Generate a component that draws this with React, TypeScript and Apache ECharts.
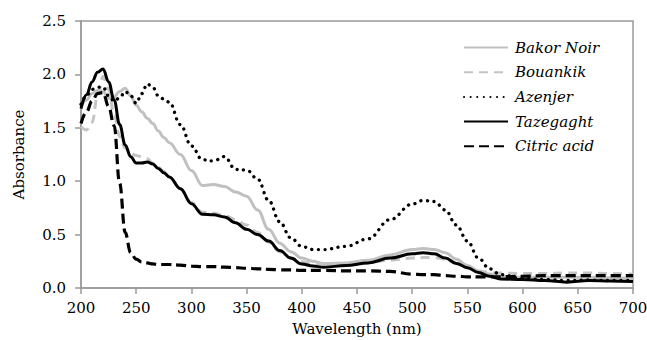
import React, { useEffect, useRef } from "react";
import * as echarts from "echarts";

const wavelengths = [200, 205, 210, 215, 220, 225, 230, 235, 240, 245, 250, 255, 260, 265, 270, 275, 280, 290, 300, 310, 320, 330, 340, 350, 360, 370, 380, 390, 400, 410, 420, 440, 460, 480, 500, 510, 520, 530, 540, 550, 560, 570, 580, 600, 620, 640, 660, 680, 700];

const bakorNoir = [1.70, 1.76, 1.82, 1.85, 1.84, 1.78, 1.79, 1.84, 1.87, 1.80, 1.71, 1.65, 1.59, 1.54, 1.47, 1.41, 1.36, 1.25, 1.10, 0.96, 0.97, 0.95, 0.90, 0.86, 0.73, 0.55, 0.42, 0.34, 0.28, 0.25, 0.23, 0.235, 0.26, 0.31, 0.36, 0.37, 0.36, 0.33, 0.27, 0.21, 0.16, 0.13, 0.11, 0.10, 0.10, 0.10, 0.10, 0.095, 0.09];

const bouankik = [1.51, 1.48, 1.55, 1.80, 1.98, 1.86, 1.62, 1.42, 1.31, 1.26, 1.24, 1.23, 1.21, 1.17, 1.13, 1.09, 1.04, 0.93, 0.80, 0.71, 0.70, 0.68, 0.64, 0.59, 0.52, 0.43, 0.34, 0.28, 0.245, 0.23, 0.225, 0.225, 0.24, 0.26, 0.28, 0.285, 0.285, 0.27, 0.23, 0.19, 0.16, 0.145, 0.14, 0.135, 0.135, 0.14, 0.14, 0.135, 0.13];

const azenjer = [1.72, 1.80, 1.86, 1.88, 1.88, 1.80, 1.75, 1.78, 1.84, 1.80, 1.73, 1.82, 1.91, 1.88, 1.80, 1.77, 1.74, 1.53, 1.33, 1.20, 1.19, 1.23, 1.11, 1.105, 1.02, 0.82, 0.62, 0.47, 0.39, 0.36, 0.36, 0.39, 0.46, 0.64, 0.785, 0.82, 0.81, 0.73, 0.59, 0.44, 0.28, 0.18, 0.125, 0.09, 0.08, 0.07, 0.075, 0.07, 0.07];

const tazegaght = [1.68, 1.81, 1.93, 2.02, 2.05, 1.93, 1.76, 1.53, 1.34, 1.23, 1.17, 1.17, 1.18, 1.16, 1.12, 1.08, 1.04, 0.93, 0.79, 0.69, 0.685, 0.665, 0.61, 0.55, 0.50, 0.44, 0.35, 0.28, 0.225, 0.205, 0.195, 0.21, 0.235, 0.28, 0.32, 0.33, 0.32, 0.28, 0.23, 0.19, 0.145, 0.11, 0.085, 0.08, 0.07, 0.055, 0.07, 0.065, 0.06];

const citricAcid = [1.54, 1.65, 1.75, 1.82, 1.83, 1.70, 1.52, 0.98, 0.52, 0.33, 0.27, 0.245, 0.235, 0.225, 0.22, 0.22, 0.22, 0.215, 0.205, 0.20, 0.20, 0.195, 0.19, 0.185, 0.18, 0.175, 0.17, 0.17, 0.165, 0.165, 0.165, 0.16, 0.16, 0.155, 0.13, 0.125, 0.125, 0.115, 0.11, 0.105, 0.105, 0.105, 0.105, 0.11, 0.115, 0.115, 0.115, 0.115, 0.115];

const seriesNames = ["Bakor Noir", "Bouankik", "Azenjer", "Tazegaght", "Citric acid"];

const X_MIN = 200;
const X_MAX = 700;
const Y_MIN = 0;
const Y_MAX = 2.5;

const FONT = "DejaVu Serif";

function pairs(vals: number[]) {
  return wavelengths.map((w, i) => [w, vals[i]]);
}

export default function App() {
  const ref = useRef<HTMLDivElement>(null);
  useEffect(() => {
    if (!ref.current) return;
    const chart = echarts.init(ref.current, null, { renderer: "svg" });
    const axisColor = "#9a9a9a";
    const common = { type: "line", symbol: "none", showSymbol: false, smooth: 0.4, smoothMonotone: "x" };
    chart.setOption({
      animation: false,
      backgroundColor: "#ffffff",
      grid: { left: 81, right: 14, top: 21, bottom: 52, containLabel: false, outerBoundsMode: "none" },
      legend: {
        orient: "vertical",
        left: 463,
        top: 40,
        padding: 0,
        itemWidth: 44,
        itemHeight: 14,
        itemGap: 9.7,
        data: seriesNames,
        itemStyle: { opacity: 0 },
        textStyle: { fontFamily: FONT, fontStyle: "italic", fontSize: 15, color: "#000", padding: [0, 0, 0, 2] },
      },
      xAxis: {
        type: "value",
        min: X_MIN,
        max: X_MAX,
        interval: 50,
        name: "Wavelength (nm)",
        nameLocation: "middle",
        nameGap: 33,
        nameTextStyle: { fontFamily: FONT, fontSize: 15, color: "#000" },
        axisLine: { show: true, onZero: false, lineStyle: { color: axisColor, width: 1.5 } },
        axisTick: { show: true, inside: false, length: 6, lineStyle: { color: axisColor, width: 1.5 } },
        axisLabel: { fontFamily: FONT, fontSize: 15, color: "#000", margin: 12 },
        splitLine: { show: false },
      },
      yAxis: {
        type: "value",
        min: Y_MIN,
        max: Y_MAX,
        interval: 0.5,
        name: "Absorbance",
        nameLocation: "middle",
        nameGap: 55,
        nameTextStyle: { fontFamily: FONT, fontSize: 15, color: "#000" },
        axisLine: { show: true, onZero: false, lineStyle: { color: axisColor, width: 1.5 } },
        axisTick: { show: true, inside: false, length: 6, lineStyle: { color: axisColor, width: 1.5 } },
        axisLabel: { fontFamily: FONT, fontSize: 15, color: "#000", margin: 15, formatter: (v: number) => v.toFixed(1) },
        splitLine: { show: false },
      },
      series: [
        {
          ...common,
          name: seriesNames[0],
          data: pairs(bakorNoir),
          z: 2,
          lineStyle: { color: "#c0c0c0", width: 3, type: "solid" },
          itemStyle: { color: "#c0c0c0" },
          markArea: {
            silent: true,
            label: { show: false },
            itemStyle: { color: "rgba(255,255,255,0)", borderColor: axisColor, borderWidth: 1.5 },
            data: [[{ coord: [X_MIN, Y_MAX] }, { coord: [X_MAX, Y_MIN] }]],
          },
        },
        { ...common, name: seriesNames[1], data: pairs(bouankik), z: 2, lineStyle: { color: "#c4c4c4", width: 3, type: [9, 6] }, itemStyle: { color: "#c4c4c4" } },
        { ...common, name: seriesNames[2], data: pairs(azenjer), z: 3, lineStyle: { color: "#000", width: 3.3, type: [0.1, 6.5], cap: "round" }, itemStyle: { color: "#000" } },
        { ...common, name: seriesNames[3], data: pairs(tazegaght), z: 4, lineStyle: { color: "#000", width: 3, type: "solid" }, itemStyle: { color: "#000" } },
        { ...common, name: seriesNames[4], data: pairs(citricAcid), z: 4, lineStyle: { color: "#000", width: 3.2, type: [10, 5] }, itemStyle: { color: "#000" } },
      ],
    });
    return () => chart.dispose();
  }, []);
  return <div ref={ref} style={{ width: 647, height: 340, position: "absolute", left: 0, top: 0 }} />;
}
